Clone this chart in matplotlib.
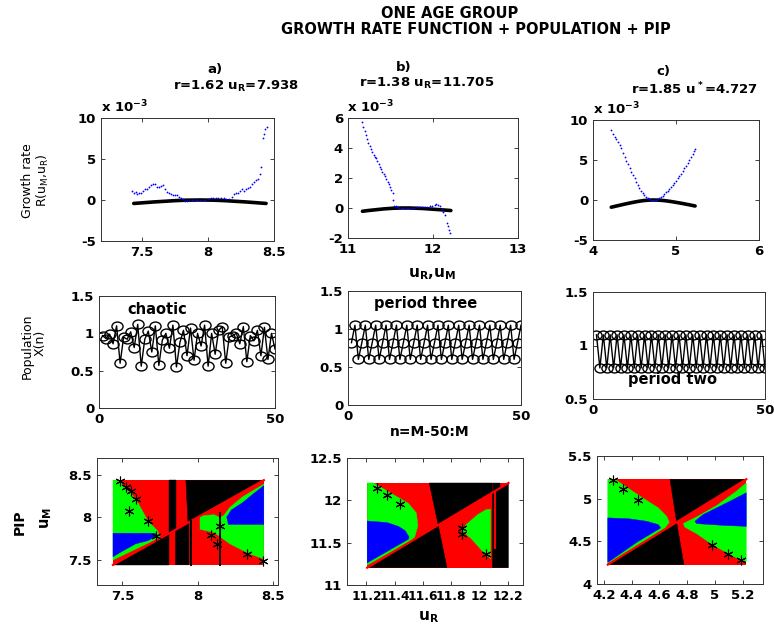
import matplotlib
matplotlib.use('Agg')
import matplotlib.pyplot as plt
from matplotlib import ticker
from matplotlib.path import Path
from matplotlib.transforms import Affine2D

plt.rcParams['font.family'] = ['DejaVu Sans']
plt.rcParams['mathtext.fontset'] = 'dejavusans'
plt.rcParams['mathtext.default'] = 'bf'

# ---------------- DATA ----------------
# Row 1: growth rate (values in units of 1e-3)
gr_a_blue_x = [7.430, 7.445, 7.455, 7.465, 7.480, 7.495, 7.510, 7.525, 7.540, 7.555, 7.570, 7.585,
               7.600, 7.615, 7.630, 7.645, 7.660, 7.675, 7.690, 7.705, 7.720, 7.735, 7.750, 7.765,
               7.780, 7.795, 7.810, 7.825, 7.840, 7.860, 7.880, 7.900, 7.920, 7.940, 7.960, 7.980,
               8.000, 8.020, 8.040, 8.060, 8.080, 8.100, 8.120, 8.140, 8.160, 8.180, 8.200, 8.215,
               8.230, 8.245, 8.260, 8.275, 8.290, 8.305, 8.320, 8.335, 8.350, 8.365, 8.380, 8.395,
               8.405, 8.415, 8.425, 8.435, 8.445]
gr_a_blue_y = [1.1, 0.9, 1.0, 0.7, 0.8, 0.8, 1.1, 1.3, 1.4, 1.6, 1.8, 2.0,
               1.9, 1.6, 1.6, 1.7, 1.8, 1.4, 1.0, 0.8, 0.7, 0.6, 0.6, 0.6,
               0.4, 0.3, 0.1, -0.1, -0.1, 0.0, 0.0, 0.0, 0.0, 0.0, 0.0, 0.05,
               0.1, 0.2, 0.3, 0.3, 0.2, 0.2, 0.3, 0.1, 0.1, 0.4, 0.7, 0.9,
               0.8, 1.1, 1.3, 1.1, 1.4, 1.5, 1.6, 1.9, 2.2, 2.4, 2.6, 3.2,
               4.0, 7.6, 8.0, 8.6, 8.9]
gr_a_black_x = [7.44, 7.49, 7.54, 7.59, 7.64, 7.69, 7.74, 7.79, 7.84, 7.89, 7.94,
                7.99, 8.04, 8.09, 8.14, 8.19, 8.24, 8.29, 8.34, 8.39, 8.44]
gr_a_black_y = [-0.42, -0.36, -0.30, -0.24, -0.19, -0.14, -0.09, -0.05, -0.02, -0.01, 0.0,
                -0.01, -0.02, -0.05, -0.09, -0.14, -0.19, -0.24, -0.30, -0.36, -0.42]

gr_b_blue_x = [11.165, 11.18, 11.195, 11.21, 11.225, 11.24, 11.255, 11.27, 11.285, 11.30, 11.315,
               11.33, 11.345, 11.36, 11.375, 11.39, 11.405, 11.42, 11.435, 11.45, 11.465, 11.48,
               11.495, 11.51, 11.525, 11.535, 11.545, 11.56, 11.58, 11.60, 11.63, 11.66, 11.69,
               11.72, 11.75, 11.78, 11.81, 11.84, 11.87, 11.90, 11.93, 11.96, 11.99, 12.02, 12.04,
               12.06, 12.08, 12.10, 12.12, 12.14, 12.16, 12.175, 12.19, 12.205]
gr_b_blue_y = [5.7, 5.4, 5.1, 4.85, 4.6, 4.35, 4.1, 3.9, 3.7, 3.5, 3.4,
               3.3, 3.1, 2.9, 2.75, 2.6, 2.4, 2.25, 2.1, 1.9, 1.75, 1.6,
               1.4, 1.2, 1.0, 0.5, 0.15, 0.1, 0.05, 0.0, 0.0, 0.0, 0.0,
               0.0, 0.02, 0.03, 0.04, 0.05, 0.05, 0.06, 0.08, 0.1, 0.13, 0.2, 0.25,
               0.2, 0.1, -0.1, -0.25, -0.45, -1.0, -1.2, -1.5, -1.7]
gr_b_black_x = [11.17, 11.22, 11.27, 11.32, 11.37, 11.42, 11.47, 11.52, 11.57, 11.62, 11.67,
                11.72, 11.77, 11.82, 11.87, 11.92, 11.97, 12.02, 12.07, 12.12, 12.17, 12.21]
gr_b_black_y = [-0.22, -0.18, -0.15, -0.12, -0.09, -0.06, -0.04, -0.02, -0.01, 0.0, 0.0,
                0.0, -0.01, -0.02, -0.03, -0.05, -0.07, -0.09, -0.11, -0.13, -0.15, -0.17]

gr_c_blue_x = [4.22, 4.24, 4.26, 4.28, 4.30, 4.32, 4.34, 4.36, 4.38, 4.40, 4.42, 4.44, 4.46,
               4.48, 4.50, 4.52, 4.54, 4.56, 4.58, 4.60, 4.62, 4.64, 4.66, 4.68, 4.70, 4.72,
               4.74, 4.76, 4.78, 4.80, 4.82, 4.84, 4.86, 4.88, 4.90, 4.92, 4.94, 4.96, 4.98,
               5.00, 5.02, 5.04, 5.06, 5.08, 5.10, 5.12, 5.14, 5.16, 5.18, 5.20, 5.22, 5.23]
gr_c_blue_y = [8.7, 8.3, 7.9, 7.6, 7.25, 6.9, 6.5, 5.9, 5.4, 4.9, 4.45, 4.0, 3.55,
               3.1, 2.7, 2.3, 1.9, 1.5, 1.15, 0.85, 0.6, 0.38, 0.2, 0.08, 0.02, 0.0,
               0.01, 0.06, 0.15, 0.25, 0.4, 0.55, 0.75, 0.95, 1.15, 1.4, 1.65, 1.9, 2.15,
               2.4, 2.7, 3.0, 3.3, 3.6, 3.95, 4.3, 4.65, 5.0, 5.35, 5.75, 6.1, 6.35]
gr_c_black_x = [4.22, 4.27, 4.32, 4.37, 4.42, 4.47, 4.52, 4.57, 4.62, 4.67, 4.72,
                4.77, 4.82, 4.87, 4.92, 4.97, 5.02, 5.07, 5.12, 5.17, 5.23]
gr_c_black_y = [-0.90, -0.78, -0.66, -0.54, -0.43, -0.32, -0.22, -0.13, -0.06, -0.02, 0.0,
                -0.01, -0.04, -0.09, -0.16, -0.24, -0.33, -0.42, -0.52, -0.62, -0.75]

# Row 2: population X(n), n = 1..50
pop_n = list(range(1, 51))
pop_a = [0.97, 0.93, 0.99, 0.86, 1.10, 0.60, 0.95, 0.92, 1.02, 0.81,
         1.12, 0.56, 0.92, 1.03, 0.75, 1.10, 0.57, 0.91, 1.00, 0.80,
         1.11, 0.55, 0.88, 1.04, 0.70, 1.07, 0.64, 1.00, 0.83, 1.11,
         0.56, 1.00, 0.72, 1.04, 1.09, 0.60, 0.95, 0.97, 1.00, 0.86,
         1.09, 0.62, 0.97, 0.90, 1.04, 0.70, 1.08, 0.65, 1.00, 0.79]
pop_b = [0.82, 1.05, 0.60, 0.82, 1.05, 0.60, 0.82, 1.05, 0.60, 0.82,
         1.05, 0.60, 0.82, 1.05, 0.60, 0.82, 1.05, 0.60, 0.82, 1.05,
         0.60, 0.82, 1.05, 0.60, 0.82, 1.05, 0.60, 0.82, 1.05, 0.60,
         0.82, 1.05, 0.60, 0.82, 1.05, 0.60, 0.82, 1.05, 0.60, 0.82,
         1.05, 0.60, 0.82, 1.05, 0.60, 0.82, 1.05, 0.60, 0.82, 1.05]
pop_c = [1.10, 0.79, 1.10, 0.79, 1.10, 0.79, 1.10, 0.79, 1.10, 0.79,
         1.10, 0.79, 1.10, 0.79, 1.10, 0.79, 1.10, 0.79, 1.10, 0.79,
         1.10, 0.79, 1.10, 0.79, 1.10, 0.79, 1.10, 0.79, 1.10, 0.79,
         1.10, 0.79, 1.10, 0.79, 1.10, 0.79, 1.10, 0.79, 1.10, 0.79,
         1.10, 0.79, 1.10, 0.79, 1.10, 0.79, 1.10, 0.79, 1.10, 0.79]

# Row 3: PIP regions (u_R horizontal, u_M vertical)
pipA_range = [7.438, 8.438]
pipA_black = [
    [(7.438, 7.438), (7.807, 7.438), (7.807, 7.807)],
    [(7.807, 7.807), (7.807, 8.438), (7.859, 8.438), (7.859, 7.859)],
    [(7.852, 7.438), (7.942, 7.438), (7.942, 7.942), (7.852, 7.852)],
    [(7.921, 8.438), (8.438, 8.438), (7.935, 7.935)],
]
pipA_green = [
    [(7.438, 8.438), (7.473, 8.438), (7.588, 8.220), (7.671, 7.953), (7.734, 7.839),
     (7.751, 7.762), (7.438, 7.495)],
    [(8.015, 8.018), (8.109, 8.030), (8.140, 8.003), (8.171, 8.018), (8.213, 8.117),
     (8.296, 8.240), (8.438, 8.392), (8.438, 7.507), (8.338, 7.572), (8.213, 7.686),
     (8.109, 7.820), (8.015, 7.858)],
]
pipA_blue = [
    [(7.438, 7.812), (7.713, 7.812), (7.734, 7.789), (7.671, 7.724), (7.588, 7.686),
     (7.484, 7.583), (7.438, 7.533)],
    [(8.203, 7.915), (8.192, 8.003), (8.223, 8.087), (8.296, 8.171), (8.369, 8.278),
     (8.438, 8.373), (8.438, 7.915)],
]
pipA_vlines_x = [7.955, 8.148]
pipA_vlines_top = [7.950, 8.049]
pipA_star_x = [7.484, 7.526, 7.557, 7.588, 7.546, 7.671, 7.723, 8.088, 8.130, 8.148, 8.328, 8.432]
pipA_star_y = [8.430, 8.354, 8.316, 8.220, 8.079, 7.953, 7.782, 7.789, 7.686, 7.900, 7.572, 7.484]

pipB_range = [11.205, 12.205]
pipB_black = [
    [(11.205, 11.205), (11.770, 11.205), (11.708, 11.708)],
    [(11.644, 12.205), (12.091, 12.205), (12.091, 12.091), (11.708, 11.708)],
    [(12.092, 11.205), (12.205, 11.205), (12.205, 12.205), (12.092, 12.092)],
    [(12.097, 12.097), (12.097, 12.205), (12.143, 12.205), (12.143, 12.143)],
]
pipB_green = [
    [(11.205, 12.205), (11.251, 12.205), (11.370, 12.087), (11.496, 11.965), (11.553, 11.851),
     (11.564, 11.699), (11.541, 11.566), (11.518, 11.528), (11.205, 11.235)],
    [(11.873, 11.642), (11.908, 11.718), (11.988, 11.832), (12.045, 11.889), (12.079, 11.897),
     (12.079, 11.311), (12.033, 11.376), (11.942, 11.547)],
]
pipB_blue = [
    [(11.205, 11.756), (11.347, 11.737), (11.427, 11.692), (11.473, 11.642), (11.502, 11.566),
     (11.496, 11.540), (11.205, 11.262)],
]
pipB_redline_x = 12.113
pipB_redline_y = [11.433, 12.098]
pipB_star_x = [11.278, 11.347, 11.438, 11.873, 11.878, 12.045]
pipB_star_y = [12.148, 12.068, 11.958, 11.669, 11.604, 11.365]

pipC_range = [4.227, 5.227]
pipC_black = [
    [(4.676, 5.227), (5.227, 5.227), (4.724, 4.724)],
    [(4.227, 4.227), (4.777, 4.227), (4.724, 4.724)],
]
pipC_green = [
    [(4.227, 5.227), (4.279, 5.227), (4.460, 5.029), (4.592, 4.892), (4.652, 4.794),
     (4.671, 4.724), (4.640, 4.657), (4.227, 4.237)],
    [(4.772, 4.708), (4.868, 4.786), (5.013, 4.920), (5.157, 5.088), (5.227, 5.186),
     (5.227, 4.265), (5.193, 4.276), (5.097, 4.355), (4.976, 4.469), (4.868, 4.590),
     (4.784, 4.665)],
]
pipC_blue = [
    [(4.227, 4.775), (4.388, 4.763), (4.508, 4.735), (4.592, 4.696), (4.609, 4.657),
     (4.556, 4.606), (4.436, 4.488), (4.227, 4.253)],
    [(4.856, 4.735), (4.916, 4.814), (5.013, 4.892), (5.133, 4.990), (5.227, 5.069),
     (5.227, 4.676), (5.097, 4.684), (4.976, 4.696), (4.868, 4.708)],
]
pipC_star_x = [4.263, 4.339, 4.448, 4.976, 5.097, 5.186]
pipC_star_y = [5.218, 5.108, 4.990, 4.461, 4.355, 4.276]

# ---------------- FIGURE ----------------
W, H = 774, 626
fig = plt.figure(figsize=(W / 100, H / 100), dpi=100)
fig.patch.set_facecolor('white')

ASTERISK = (6, 2, 0)
ELLIPSE = Path.unit_circle().transformed(Affine2D().scale(1.25, 1.0))


def px(x, y):
    return x / W, 1 - y / H


def add_ax(l, t, r, b):
    return fig.add_axes([l / W, 1 - b / H, (r - l) / W, (b - t) / H])


fmt = ticker.FuncFormatter(lambda v, p: f'{v:g}')


def style(ax, xlim, ylim, xticks, yticks, fs=9.5, xfs=None):
    ax.set_xlim(xlim)
    ax.set_ylim(ylim)
    ax.set_xticks(xticks)
    ax.set_yticks(yticks)
    ax.xaxis.set_major_formatter(fmt)
    ax.yaxis.set_major_formatter(fmt)
    ax.tick_params(direction='in', top=True, right=True, length=3, width=0.6,
                   labelsize=fs, pad=3.5, colors='#222222', labelcolor='black')
    if xfs:
        ax.tick_params(axis='x', labelsize=xfs)
    for lab in ax.get_xticklabels() + ax.get_yticklabels():
        lab.set_fontweight('bold')
    for s in ax.spines.values():
        s.set_linewidth(0.7)
        s.set_color('#333333')


def text(x, y, s, **kw):
    fig.text(*px(x, y), s, **kw)


# Main title
text(450, 14, 'ONE AGE GROUP', ha='center', va='center', fontsize=10.5, fontweight='bold')
text(476, 29, 'GROWTH RATE FUNCTION + POPULATION + PIP', ha='center', va='center',
     fontsize=10.5, fontweight='bold')

# Subplot titles
text(215, 70, 'a)', ha='center', va='center', fontsize=9.5, fontweight='bold')
text(236, 86, 'r=1.62 u$_R$=7.938', ha='center', va='center', fontsize=9.5, fontweight='bold')
text(404, 67, 'b)', ha='center', va='center', fontsize=9.5, fontweight='bold')
text(427, 83, 'r=1.38 u$_R$=11.705', ha='center', va='center', fontsize=9.5, fontweight='bold')
text(663, 71, 'c)', ha='center', va='center', fontsize=9.5, fontweight='bold')
text(694, 89, 'r=1.85 u$^*$=4.727', ha='center', va='center', fontsize=9.5, fontweight='bold')

# ----- Row 1 -----
row1 = [
    (add_ax(100.7, 118, 274, 241), gr_a_blue_x, gr_a_blue_y, gr_a_black_x, gr_a_black_y,
     (7.19, 8.5), (-5, 10), [7.5, 8, 8.5], [-5, 0, 5, 10], 101),
    (add_ax(348, 118, 518, 238), gr_b_blue_x, gr_b_blue_y, gr_b_black_x, gr_b_black_y,
     (11, 13), (-2, 6), [11, 12, 13], [-2, 0, 2, 4, 6], 347),
    (add_ax(593, 120, 759, 240), gr_c_blue_x, gr_c_blue_y, gr_c_black_x, gr_c_black_y,
     (4, 6), (-5, 10), [4, 5, 6], [-5, 0, 5, 10], 593),
]
for ax, bx, by, kx, ky, xl, yl, xt, yt, lx in row1:
    ax.plot(kx, ky, '-', color='black', lw=2.6, solid_capstyle='round')
    ax.plot(bx, by, '.', color='#0000ff', ms=2.6, mec='none')
    style(ax, xl, yl, xt, yt)
    top = ax.get_position().y1
    fig.text(lx / W, top + 0.004, 'x 10$^{-3}$', ha='left', va='bottom',
             fontsize=9.5, fontweight='bold')

text(28, 181, 'Growth rate', rotation=90, ha='center', va='center', fontsize=9)
text(43, 180, r'R(u$_\mathrm{M}$,u$_\mathrm{R}$)', rotation=90, ha='center', va='center', fontsize=9)
text(432, 274, 'u$_R$,u$_M$', ha='center', va='center', fontsize=11, fontweight='bold')

# ----- Row 2 -----
row2 = [
    (add_ax(99, 296, 275, 408), pop_a, (0, 1.5), [0, 0.5, 1, 1.5], 'chaotic', (8, 1.32)),
    (add_ax(348, 291, 521, 405), pop_b, (0, 1.5), [0, 0.5, 1, 1.5], 'period three', (7.4, 1.34)),
    (add_ax(593, 292, 765, 399), pop_c, (0.5, 1.5), [0.5, 1, 1.5], 'period two', (10.2, 0.685)),
]
for ax, vals, yl, yt, lab, pos in row2:
    ax.plot(pop_n, vals, '-', color='black', lw=1.0)
    ax.plot(pop_n, vals, marker=ELLIPSE, ls='none', ms=8, mfc='none', mec='black', mew=1.0)
    style(ax, (0, 50), yl, [0, 50], yt)
    ax.text(pos[0], pos[1], lab, ha='left', va='center', fontsize=10.5, fontweight='bold')

text(27, 346, 'Population', rotation=90, ha='center', va='center', fontsize=9)
text(40, 343, 'X(n)', rotation=90, ha='center', va='center', fontsize=9)
text(430, 432, 'n=M-50:M', ha='center', va='center', fontsize=10, fontweight='bold')

# ----- Row 3 -----
def draw_pip(ax, rng, blacks, greens, blues):
    lo, hi = rng
    ax.fill([lo, hi, hi, lo], [lo, lo, hi, hi], color='#ff0000', lw=0)
    for poly in blacks:
        ax.fill([p[0] for p in poly], [p[1] for p in poly], color='black', lw=0.3)
    for poly in greens:
        ax.fill([p[0] for p in poly], [p[1] for p in poly], color='#00ff00', lw=0.3)
    for poly in blues:
        ax.fill([p[0] for p in poly], [p[1] for p in poly], color='#0000ff', lw=0.3)
    ax.plot([lo, hi], [lo, hi], color='#ff0000', lw=1.6)


axA = add_ax(96.7, 458, 277.7, 585)
draw_pip(axA, pipA_range, pipA_black, pipA_green, pipA_blue)
for vx, vt in zip(pipA_vlines_x, pipA_vlines_top):
    axA.plot([vx, vx], [pipA_range[0], vt], color='black', lw=1.4)
axA.plot(pipA_star_x, pipA_star_y, marker=ASTERISK, color='black', ms=7, mew=0.8, ls='none')
style(axA, (7.33, 8.53), (7.2, 8.7), [7.5, 8, 8.5], [7.5, 8, 8.5])

axB = add_ax(346.7, 458, 523.3, 585)
draw_pip(axB, pipB_range, pipB_black, pipB_green, pipB_blue)
axB.plot([pipB_redline_x, pipB_redline_x], pipB_redline_y, color='#ff0000', lw=1.4)
axB.plot(pipB_star_x, pipB_star_y, marker=ASTERISK, color='black', ms=7, mew=0.8, ls='none')
style(axB, (11.06, 12.31), (11, 12.5), [11.2, 11.4, 11.6, 11.8, 12, 12.2], [11, 11.5, 12, 12.5],
      xfs=8.8)

axC = add_ax(596.7, 456, 763.3, 584)
draw_pip(axC, pipC_range, pipC_black, pipC_green, pipC_blue)
axC.plot(pipC_star_x, pipC_star_y, marker=ASTERISK, color='black', ms=7, mew=0.8, ls='none')
style(axC, (4.147, 5.35), (4, 5.5), [4.2, 4.4, 4.6, 4.8, 5, 5.2], [4, 4.5, 5, 5.5])

text(20, 522, 'PIP', rotation=90, ha='center', va='center', fontsize=10, fontweight='bold')
text(46, 518, 'u$_M$', rotation=90, ha='center', va='center', fontsize=10.5, fontweight='bold')
text(428, 617, 'u$_R$', ha='center', va='center', fontsize=11, fontweight='bold')

fig.savefig('out.png', dpi=100)
